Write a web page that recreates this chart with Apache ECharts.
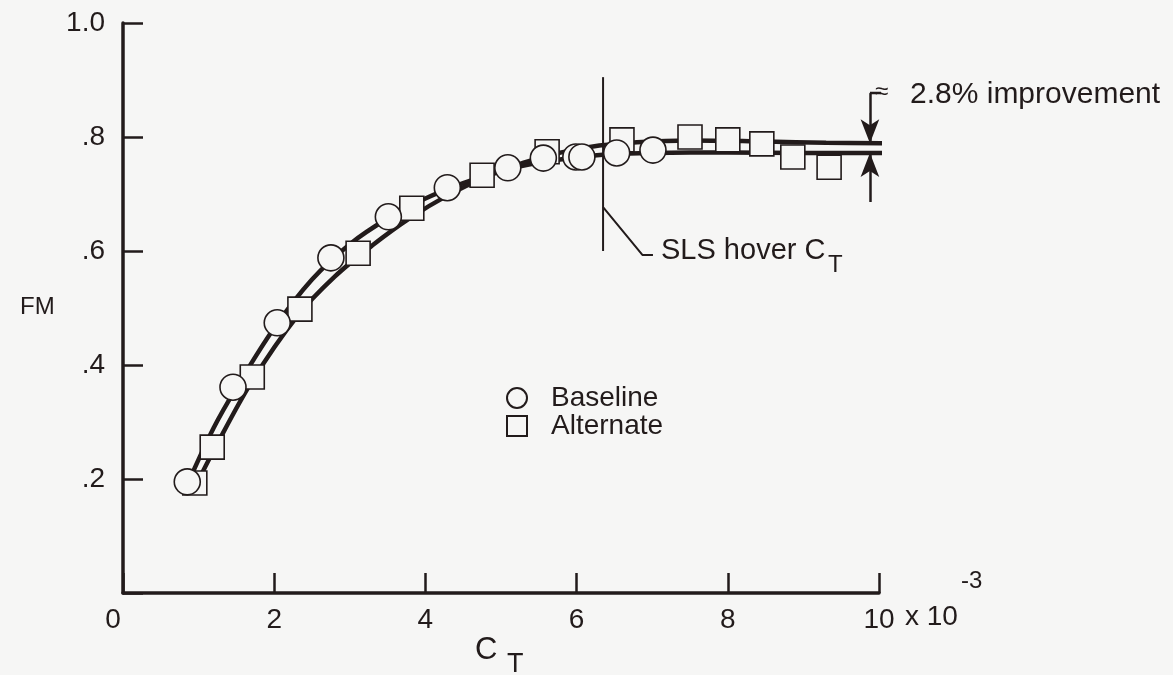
<!DOCTYPE html>
<html>
<head>
<meta charset="utf-8">
<script src="https://cdn.jsdelivr.net/npm/echarts@6/dist/echarts.min.js"></script>
<style>
html,body{margin:0;padding:0;background:#f6f6f5;}
#chart{width:1173px;height:675px;}
</style>
</head>
<body>
<div id="chart"></div>
<script>
// ---- Data (C_T in units of 1e-3, FM) ----
const baselineCT = [0.85, 1.455, 2.04, 2.75, 3.51, 4.29, 5.09, 5.56, 5.99, 6.07, 6.53, 7.01];
const baselineFM = [0.195, 0.361, 0.474, 0.588, 0.660, 0.711, 0.746, 0.763, 0.765, 0.765, 0.772, 0.777];
const alternateCT = [0.95, 1.18, 1.71, 2.34, 3.11, 3.82, 4.75, 5.61, 6.60, 7.50, 8.00, 8.45, 8.86, 9.34];
const alternateFM = [0.193, 0.256, 0.379, 0.498, 0.596, 0.675, 0.733, 0.774, 0.795, 0.800, 0.795, 0.788, 0.765, 0.747];

// faired curves
const baselineFitCT = [0.85, 1.2, 1.5, 2.0, 2.5, 3.0, 3.5, 4.0, 4.5, 5.0, 5.5, 6.0, 6.5, 7.0, 8.0, 9.0, 10.08];
const baselineFitFM = [0.19, 0.29, 0.36, 0.465, 0.55, 0.612, 0.657, 0.692, 0.719, 0.74, 0.755, 0.764, 0.77, 0.772, 0.773, 0.772, 0.772];
const alternateFitCT = [0.95, 1.2, 1.7, 2.3, 2.8, 3.3, 3.8, 4.3, 4.8, 5.3, 5.8, 6.3, 6.8, 7.5, 8.5, 9.3, 10.08];
const alternateFitFM = [0.185, 0.25, 0.37, 0.485, 0.555, 0.61, 0.658, 0.698, 0.73, 0.755, 0.773, 0.785, 0.791, 0.794, 0.792, 0.79, 0.789];

// axis ticks
const xTicks = [0, 2, 4, 6, 8, 10];
const yTickLabels = {0: '', 0.2: '.2', 0.4: '.4', 0.6: '.6', 0.8: '.8', 1: '1.0'};

// annotations (data coordinates)
const hoverCT = 6.35;
const hoverLine = [[hoverCT, 0.905], [hoverCT, 0.60]];
const hoverLeader = [[hoverCT, 0.677], [6.87, 0.593], [7.01, 0.593]];
const arrowCT = 9.88;
const arrowTop = [[arrowCT, 0.877], [arrowCT, 0.789]];
const arrowBottom = [[arrowCT, 0.686], [arrowCT, 0.772]];
const bracket = [[arrowCT, 0.877], [10.05, 0.877]];

const ink = '#221b1b';
const bg = '#f6f6f5';
const font = '"Liberation Sans", Arial, Helvetica, sans-serif';

const zip = (a, b) => a.map((v, i) => [v, b[i]]);

const chart = echarts.init(document.getElementById('chart'), null, {renderer: 'canvas'});

const plainLine = (name, data, width, smooth) => ({
  name: name, type: 'line', data: data, symbol: 'none', silent: true, smooth: smooth || false,
  lineStyle: {color: ink, width: width}, z: 3, animation: false
});

const option = {
  backgroundColor: bg,
  animation: false,
  textStyle: {fontFamily: font, color: ink},
  grid: {left: 123, right: 294, top: 23, bottom: 82},
  legend: {
    left: 501, top: 379, orient: 'vertical',
    itemWidth: 20, itemHeight: 20, itemGap: 0,
    data: ['Baseline', 'Alternate'],
    textStyle: {fontFamily: font, fontSize: 28, lineHeight: 28, color: ink, padding: [0, 0, 0, 19]}
  },
  xAxis: {
    type: 'value', min: 0, max: 10, interval: 2,
    axisLine: {lineStyle: {color: ink, width: 3.5}},
    axisTick: {inside: true, length: 20, lineStyle: {color: ink, width: 2.5}},
    splitLine: {show: false},
    axisLabel: {
      margin: 13, fontSize: 28, color: ink, fontFamily: font,
      formatter: v => (xTicks.indexOf(v) === 0 ? '{z|0}' : String(v)),
      rich: {z: {fontSize: 28, fontFamily: font, color: ink, padding: [0, 20, 0, 0]}}
    }
  },
  yAxis: {
    type: 'value', min: 0, max: 1, interval: 0.2,
    axisLine: {lineStyle: {color: ink, width: 3.5}},
    axisTick: {inside: true, length: 20, lineStyle: {color: ink, width: 2.5}},
    splitLine: {show: false},
    axisLabel: {
      margin: 18, fontSize: 28, color: ink, fontFamily: font,
      formatter: v => yTickLabels[Math.round(v * 10) / 10]
    }
  },
  series: [
    plainLine('baselineFit', zip(baselineFitCT, baselineFitFM), 4.5, 0.35),
    plainLine('alternateFit', zip(alternateFitCT, alternateFitFM), 4.5, 0.35),
    plainLine('hover', hoverLine, 2),
    plainLine('leader', hoverLeader, 2),
    plainLine('bracket', bracket, 2.5),
    {
      name: 'arrows', type: 'line', data: [], silent: true,
      markLine: {
        silent: true, symbol: ['none', 'arrow'], symbolSize: [14, 24],
        lineStyle: {color: ink, width: 2.5, type: 'solid'},
        label: {show: false},
        data: [
          [{coord: arrowTop[0]}, {coord: arrowTop[1]}],
          [{coord: arrowBottom[0]}, {coord: arrowBottom[1]}]
        ]
      }
    },
    {
      name: 'Baseline', type: 'scatter', data: zip(baselineCT, baselineFM),
      symbol: 'circle', symbolSize: 26, z: 5,
      itemStyle: {color: bg, borderColor: ink, borderWidth: 1.6, opacity: 1}
    },
    {
      name: 'Alternate', type: 'scatter', data: zip(alternateCT, alternateFM),
      symbol: 'rect', symbolSize: 24, z: 4,
      itemStyle: {color: bg, borderColor: ink, borderWidth: 1.6, opacity: 1}
    }
  ],
  graphic: [
    {type: 'text', left: 20, top: 295, style: {text: 'FM', fontSize: 24, fontFamily: font, fill: ink}},
    {type: 'text', left: 475, top: 635, style: {text: 'C', fontSize: 31, fontFamily: font, fill: ink}},
    {type: 'text', left: 507, top: 651, style: {text: 'T', fontSize: 27, fontFamily: font, fill: ink}},
    {type: 'text', left: 905, top: 603, style: {text: 'x 10', fontSize: 28, fontFamily: font, fill: ink}},
    {type: 'text', left: 961, top: 569, style: {text: '-3', fontSize: 24, fontFamily: font, fill: ink}},
    {type: 'text', left: 661, top: 236, style: {text: 'SLS hover C', fontSize: 29, fontFamily: font, fill: ink}},
    {type: 'text', left: 828, top: 253, style: {text: 'T', fontSize: 24, fontFamily: font, fill: ink}},
    {type: 'text', left: 875, top: 80, style: {text: '≈', fontSize: 24, fontFamily: font, fill: ink}},
    {type: 'text', left: 910, top: 80, style: {text: '2.8% improvement', fontSize: 30, fontFamily: font, fill: ink}}
  ]
};

chart.setOption(option);
</script>
</body>
</html>
